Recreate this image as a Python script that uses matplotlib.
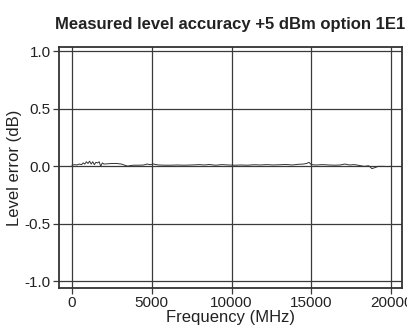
import numpy as np
import matplotlib
matplotlib.use('Agg')
import matplotlib.pyplot as plt

# Measured level error vs frequency
FREQ_MHZ = [0, 150, 300, 450, 600, 700, 800, 900, 1000, 1100, 1200, 1300,
            1400, 1500, 1600, 1700, 1800, 1900, 2000, 2200, 2500, 2800, 3100,
            3300, 3500, 3700, 3900, 4200, 4500, 4700, 4900, 5100, 5400, 5800,
            6200, 6600, 7000, 7500, 8000, 8300, 8600, 9000, 9400, 9800, 10200,
            10600, 11000, 11400, 11800, 12200, 12600, 13000, 13400, 13800,
            14200, 14500, 14700, 14850, 15000, 15300, 15700, 16100, 16500,
            16800, 17100, 17400, 17700, 18000, 18300, 18600, 18800, 19000,
            19200, 19500, 19800, 20000]
LEVEL_ERR_DB = [0.01, 0.015, 0.012, 0.02, 0.015, 0.03, 0.02, 0.04, 0.025,
                0.045, 0.02, 0.04, 0.015, 0.035, 0.03, 0.04, 0.0, 0.03, 0.02,
                0.022, 0.025, 0.025, 0.02, 0.01, 0.002, 0.008, 0.01, 0.01,
                0.012, 0.02, 0.015, 0.02, 0.012, 0.01, 0.01, 0.012, 0.01,
                0.012, 0.015, 0.012, 0.016, 0.01, 0.015, 0.012, 0.01, 0.012,
                0.01, 0.014, 0.012, 0.015, 0.012, 0.014, 0.016, 0.012, 0.018,
                0.02, 0.025, 0.035, 0.015, 0.012, 0.015, 0.012, 0.01, 0.012,
                0.02, 0.012, 0.015, 0.008, 0.0, 0.005, -0.02, -0.01, 0.0,
                0.0, -0.002, 0.0]

X_TICKS = [0, 5000, 10000, 15000, 20000]
Y_TICKS = [-1.0, -0.5, 0.0, 0.5, 1.0]

plt.rcParams['font.family'] = ['Liberation Sans', 'DejaVu Sans']

fig = plt.figure(figsize=(4.07, 3.35), dpi=100)
ax = fig.add_axes([0.145, 0.140, 0.843, 0.720])

ax.plot(FREQ_MHZ, LEVEL_ERR_DB, color='#333333', lw=0.7, zorder=3)

ax.set_xlim(-815, 20690)
ax.set_ylim(-1.06, 1.04)
ax.set_xticks(X_TICKS)
ax.set_yticks(Y_TICKS)
ax.set_xticklabels([str(t) for t in X_TICKS])
ax.set_yticklabels([f'{t:.1f}' for t in Y_TICKS])
ax.grid(True, color='#3a3a3a', lw=0.9)
ax.tick_params(direction='out', length=4, width=0.9, color='#3a3a3a',
               labelsize=11, pad=2, labelcolor='#222222')
for s in ax.spines.values():
    s.set_color('#333333')
    s.set_linewidth(1.3)

ax.set_xlabel('Frequency (MHz)', fontsize=12, color='#222222', labelpad=0)
ax.set_ylabel('Level error (dB)', fontsize=12, color='#222222', labelpad=2)
ax.set_title('Measured level accuracy +5 dBm option 1E1', fontsize=12,
             fontweight='bold', color='#222222', pad=13)

fig.savefig('out.png', dpi=100)
